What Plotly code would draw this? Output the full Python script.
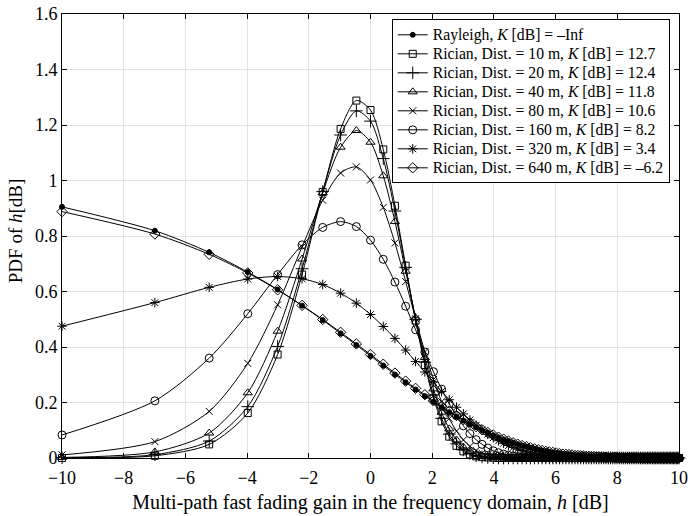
import plotly.graph_objects as go

# x positions of markers (h in dB)
h_db = [-10.0, -6.990, -5.229, -3.979, -3.010, -2.218, -1.549, -0.969, -0.458, 0.0,
        0.414, 0.792, 1.139, 1.461, 1.761, 2.041, 2.304, 2.553, 2.788, 3.010,
        3.222, 3.424, 3.617, 3.802, 3.979, 4.150, 4.314, 4.472, 4.624, 4.771,
        4.914, 5.051, 5.185, 5.315, 5.441, 5.563, 5.682, 5.798, 5.911, 6.021,
        6.128, 6.232, 6.335, 6.435, 6.532, 6.628, 6.721, 6.812, 6.902, 6.990,
        7.076, 7.160, 7.243, 7.324, 7.404, 7.482, 7.559, 7.634, 7.709, 7.782,
        7.853, 7.924, 7.993, 8.062, 8.129, 8.195, 8.261, 8.325, 8.388, 8.451,
        8.513, 8.573, 8.633, 8.692, 8.751, 8.808, 8.865, 8.921, 8.976, 9.031,
        9.085, 9.138, 9.191, 9.243, 9.294, 9.345, 9.395, 9.445, 9.494, 9.542,
        9.590, 9.638, 9.685, 9.731, 9.777, 9.823, 9.868, 9.912, 9.956, 10.0]

rayleigh = [0.905, 0.819, 0.741, 0.670, 0.607, 0.549, 0.497, 0.449, 0.407, 0.368,
            0.333, 0.301, 0.273, 0.247, 0.223, 0.202, 0.183, 0.165, 0.150, 0.135,
            0.122, 0.111, 0.100, 0.091, 0.082, 0.074, 0.067, 0.061, 0.055, 0.050,
            0.045, 0.041, 0.037, 0.033, 0.030, 0.027, 0.025, 0.022, 0.020, 0.018,
            0.017, 0.015, 0.014, 0.012, 0.011, 0.010, 0.009, 0.008, 0.007, 0.007,
            0.006, 0.006, 0.005, 0.005, 0.004, 0.004, 0.003, 0.003, 0.003, 0.002,
            0.002, 0.002, 0.002, 0.002, 0.002, 0.001, 0.001, 0.001, 0.001, 0.001,
            0.001, 0.001, 0.001, 0.001, 0.001, 0.0, 0.0, 0.0, 0.0, 0.0,
            0.0, 0.0, 0.0, 0.0, 0.0, 0.0, 0.0, 0.0, 0.0, 0.0,
            0.0, 0.0, 0.0, 0.0, 0.0, 0.0, 0.0, 0.0, 0.0, 0.0]

d10 = [0.000, 0.008, 0.049, 0.162, 0.373, 0.661, 0.959, 1.186, 1.288, 1.254,
       1.112, 0.909, 0.693, 0.495, 0.335, 0.215, 0.132, 0.077, 0.044, 0.024,
       0.013, 0.006, 0.003, 0.002, 0.001, 0.0, 0.0, 0.0, 0.0, 0.0,
       0.0, 0.0, 0.0, 0.0, 0.0, 0.0, 0.0, 0.0, 0.0, 0.0,
       0.0, 0.0, 0.0, 0.0, 0.0, 0.0, 0.0, 0.0, 0.0, 0.0,
       0.0, 0.0, 0.0, 0.0, 0.0, 0.0, 0.0, 0.0, 0.0, 0.0,
       0.0, 0.0, 0.0, 0.0, 0.0, 0.0, 0.0, 0.0, 0.0, 0.0,
       0.0, 0.0, 0.0, 0.0, 0.0, 0.0, 0.0, 0.0, 0.0, 0.0,
       0.0, 0.0, 0.0, 0.0, 0.0, 0.0, 0.0, 0.0, 0.0, 0.0,
       0.0, 0.0, 0.0, 0.0, 0.0, 0.0, 0.0, 0.0, 0.0, 0.0]

d20 = [0.001, 0.012, 0.061, 0.185, 0.402, 0.682, 0.960, 1.164, 1.251, 1.214,
       1.079, 0.890, 0.687, 0.500, 0.345, 0.227, 0.143, 0.086, 0.051, 0.029,
       0.016, 0.008, 0.004, 0.002, 0.001, 0.0, 0.0, 0.0, 0.0, 0.0,
       0.0, 0.0, 0.0, 0.0, 0.0, 0.0, 0.0, 0.0, 0.0, 0.0,
       0.0, 0.0, 0.0, 0.0, 0.0, 0.0, 0.0, 0.0, 0.0, 0.0,
       0.0, 0.0, 0.0, 0.0, 0.0, 0.0, 0.0, 0.0, 0.0, 0.0,
       0.0, 0.0, 0.0, 0.0, 0.0, 0.0, 0.0, 0.0, 0.0, 0.0,
       0.0, 0.0, 0.0, 0.0, 0.0, 0.0, 0.0, 0.0, 0.0, 0.0,
       0.0, 0.0, 0.0, 0.0, 0.0, 0.0, 0.0, 0.0, 0.0, 0.0,
       0.0, 0.0, 0.0, 0.0, 0.0, 0.0, 0.0, 0.0, 0.0, 0.0]

d40 = [0.002, 0.022, 0.090, 0.235, 0.457, 0.717, 0.956, 1.120, 1.180, 1.138,
       1.017, 0.852, 0.673, 0.505, 0.362, 0.249, 0.165, 0.105, 0.065, 0.039,
       0.023, 0.013, 0.007, 0.004, 0.002, 0.001, 0.001, 0.0, 0.0, 0.0,
       0.0, 0.0, 0.0, 0.0, 0.0, 0.0, 0.0, 0.0, 0.0, 0.0,
       0.0, 0.0, 0.0, 0.0, 0.0, 0.0, 0.0, 0.0, 0.0, 0.0,
       0.0, 0.0, 0.0, 0.0, 0.0, 0.0, 0.0, 0.0, 0.0, 0.0,
       0.0, 0.0, 0.0, 0.0, 0.0, 0.0, 0.0, 0.0, 0.0, 0.0,
       0.0, 0.0, 0.0, 0.0, 0.0, 0.0, 0.0, 0.0, 0.0, 0.0,
       0.0, 0.0, 0.0, 0.0, 0.0, 0.0, 0.0, 0.0, 0.0, 0.0,
       0.0, 0.0, 0.0, 0.0, 0.0, 0.0, 0.0, 0.0, 0.0, 0.0]

d80 = [0.011, 0.059, 0.168, 0.341, 0.552, 0.761, 0.929, 1.027, 1.049, 1.002,
       0.903, 0.775, 0.636, 0.502, 0.383, 0.283, 0.203, 0.142, 0.097, 0.065,
       0.042, 0.027, 0.017, 0.011, 0.007, 0.004, 0.002, 0.001, 0.001, 0.0,
       0.0, 0.0, 0.0, 0.0, 0.0, 0.0, 0.0, 0.0, 0.0, 0.0,
       0.0, 0.0, 0.0, 0.0, 0.0, 0.0, 0.0, 0.0, 0.0, 0.0,
       0.0, 0.0, 0.0, 0.0, 0.0, 0.0, 0.0, 0.0, 0.0, 0.0,
       0.0, 0.0, 0.0, 0.0, 0.0, 0.0, 0.0, 0.0, 0.0, 0.0,
       0.0, 0.0, 0.0, 0.0, 0.0, 0.0, 0.0, 0.0, 0.0, 0.0,
       0.0, 0.0, 0.0, 0.0, 0.0, 0.0, 0.0, 0.0, 0.0, 0.0,
       0.0, 0.0, 0.0, 0.0, 0.0, 0.0, 0.0, 0.0, 0.0, 0.0]

d160 = [0.083, 0.206, 0.360, 0.520, 0.661, 0.768, 0.831, 0.852, 0.834, 0.785,
        0.716, 0.634, 0.547, 0.462, 0.382, 0.311, 0.248, 0.195, 0.152, 0.116,
        0.088, 0.066, 0.049, 0.036, 0.026, 0.019, 0.014, 0.010, 0.007, 0.005,
        0.003, 0.002, 0.002, 0.001, 0.001, 0.0, 0.0, 0.0, 0.0, 0.0,
        0.0, 0.0, 0.0, 0.0, 0.0, 0.0, 0.0, 0.0, 0.0, 0.0,
        0.0, 0.0, 0.0, 0.0, 0.0, 0.0, 0.0, 0.0, 0.0, 0.0,
        0.0, 0.0, 0.0, 0.0, 0.0, 0.0, 0.0, 0.0, 0.0, 0.0,
        0.0, 0.0, 0.0, 0.0, 0.0, 0.0, 0.0, 0.0, 0.0, 0.0,
        0.0, 0.0, 0.0, 0.0, 0.0, 0.0, 0.0, 0.0, 0.0, 0.0,
        0.0, 0.0, 0.0, 0.0, 0.0, 0.0, 0.0, 0.0, 0.0, 0.0]

d320 = [0.475, 0.560, 0.615, 0.645, 0.654, 0.646, 0.625, 0.594, 0.558, 0.517,
        0.474, 0.431, 0.389, 0.348, 0.310, 0.274, 0.240, 0.210, 0.183, 0.159,
        0.137, 0.118, 0.101, 0.086, 0.073, 0.062, 0.053, 0.045, 0.038, 0.032,
        0.027, 0.022, 0.019, 0.016, 0.013, 0.011, 0.009, 0.007, 0.006, 0.005,
        0.004, 0.003, 0.003, 0.002, 0.002, 0.002, 0.001, 0.001, 0.001, 0.001,
        0.0, 0.0, 0.0, 0.0, 0.0, 0.0, 0.0, 0.0, 0.0, 0.0,
        0.0, 0.0, 0.0, 0.0, 0.0, 0.0, 0.0, 0.0, 0.0, 0.0,
        0.0, 0.0, 0.0, 0.0, 0.0, 0.0, 0.0, 0.0, 0.0, 0.0,
        0.0, 0.0, 0.0, 0.0, 0.0, 0.0, 0.0, 0.0, 0.0, 0.0,
        0.0, 0.0, 0.0, 0.0, 0.0, 0.0, 0.0, 0.0, 0.0, 0.0]

d640 = [0.888, 0.807, 0.734, 0.667, 0.606, 0.550, 0.499, 0.453, 0.411, 0.373,
        0.338, 0.306, 0.277, 0.251, 0.228, 0.206, 0.187, 0.169, 0.153, 0.138,
        0.125, 0.113, 0.102, 0.092, 0.083, 0.075, 0.068, 0.061, 0.055, 0.050,
        0.045, 0.041, 0.037, 0.033, 0.030, 0.027, 0.024, 0.022, 0.020, 0.018,
        0.016, 0.014, 0.013, 0.012, 0.011, 0.009, 0.009, 0.008, 0.007, 0.006,
        0.006, 0.005, 0.005, 0.004, 0.004, 0.003, 0.003, 0.003, 0.002, 0.002,
        0.002, 0.002, 0.002, 0.001, 0.001, 0.001, 0.001, 0.001, 0.001, 0.001,
        0.001, 0.001, 0.001, 0.0, 0.0, 0.0, 0.0, 0.0, 0.0, 0.0,
        0.0, 0.0, 0.0, 0.0, 0.0, 0.0, 0.0, 0.0, 0.0, 0.0,
        0.0, 0.0, 0.0, 0.0, 0.0, 0.0, 0.0, 0.0, 0.0, 0.0]

names = ["Rayleigh, <i>K</i> [dB] = \u2013Inf",
         "Rician, Dist. = 10 m, <i>K</i> [dB] = 12.7",
         "Rician, Dist. = 20 m, <i>K</i> [dB] = 12.4",
         "Rician, Dist. = 40 m, <i>K</i> [dB] = 11.8",
         "Rician, Dist. = 80 m, <i>K</i> [dB] = 10.6",
         "Rician, Dist. = 160 m, <i>K</i> [dB] = 8.2",
         "Rician, Dist. = 320 m, <i>K</i> [dB] = 3.4",
         "Rician, Dist. = 640 m, <i>K</i> [dB] = \u20136.2"]
series = [rayleigh, d10, d20, d40, d80, d160, d320, d640]
symbols = ["circle", "square-open", "cross-thin-open", "triangle-up-open",
           "x-thin-open", "circle-open", "asterisk-open", "diamond-open"]
sizes = [5, 7, 9, 8, 7, 8, 8, 8]

FONT = "Liberation Serif"
fig = go.Figure()
for nm, ys, sym, sz in zip(names, series, symbols, sizes):
    fig.add_trace(go.Scatter(
        x=h_db, y=ys, name='<span style="font-size:15.7px">' + nm + '</span>',
        mode="lines+markers",
        line=dict(color="black", width=1, shape="spline", smoothing=0.8),
        marker=dict(symbol=sym, size=sz, color="black",
                    line=dict(color="black", width=1)),
        cliponaxis=False))

axis_common = dict(showline=True, linecolor="black", linewidth=1, mirror="ticks",
                   ticks="inside", ticklen=5, tickcolor="black", automargin=False,
                   showgrid=True, gridcolor="#e3e3e3", gridwidth=1,
                   zeroline=False, tickfont=dict(family=FONT, size=18, color="black"))

fig.update_layout(
    width=688, height=516,
    margin=dict(l=62, r=9, t=14, b=58),
    paper_bgcolor="white", plot_bgcolor="white",
    font=dict(family=FONT, color="black"),
    xaxis=dict(range=[-10, 10], dtick=2, tick0=-10, ticklabelstandoff=3,
               title=dict(text="Multi-path fast fading gain in the frequency domain, <i>h</i> [dB]",
                          font=dict(family=FONT, size=20), standoff=8),
               **axis_common),
    yaxis=dict(range=[0, 1.6], dtick=0.2, tick0=0, **axis_common),
    legend=dict(x=0.985, y=0.988, xanchor="right", yanchor="top",
                bgcolor="white", bordercolor="black", borderwidth=1,
                font=dict(family=FONT, size=12, color="black"),
                tracegroupgap=0, itemwidth=30),
    showlegend=True,
    annotations=[dict(text="PDF of <i>h</i>[dB]", xref="paper", yref="paper",
                      x=-0.0762, y=0.513, xanchor="center", yanchor="middle",
                      textangle=-90, showarrow=False,
                      font=dict(family=FONT, size=19, color="black"))],
)

fig.write_html("out.html")
